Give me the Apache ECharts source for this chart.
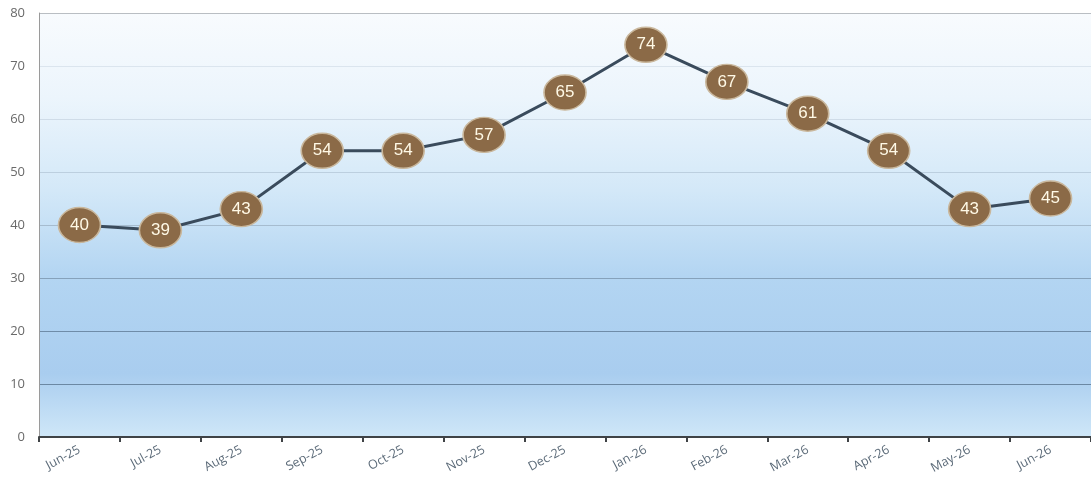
<!DOCTYPE html>
<html><head><meta charset="utf-8">
<script src="https://cdn.jsdelivr.net/npm/echarts@6/dist/echarts.min.js"></script>
<style>html,body{margin:0;padding:0;background:#fff}#c{width:1091px;height:485px}</style>
</head><body><div id="c"></div>
<script>
const categories = ['Jun-25','Jul-25','Aug-25','Sep-25','Oct-25','Nov-25','Dec-25','Jan-26','Feb-26','Mar-26','Apr-26','May-26','Jun-26'];
const values = [40,39,43,54,54,57,65,74,67,61,54,43,45];
const yTicks = {min:0, max:80, interval:10};

const chart = echarts.init(document.getElementById('c'), null, {renderer:'canvas'});
chart.setOption({
  animation:false,
  backgroundColor:'#ffffff',
  grid:{left:39, top:13, width:1060, height:424, show:true, borderWidth:0,
    backgroundColor:{type:'linear',x:0,y:0,x2:0,y2:1,colorStops:[
      {offset:0,color:'#f8fbfe'},
      {offset:0.2,color:'#ecf5fc'},
      {offset:0.42,color:'#d3e8f8'},
      {offset:0.62,color:'#b3d5f2'},
      {offset:0.85,color:'#a9cdef'},
      {offset:1,color:'#cfe7f8'}]}},
  xAxis:{type:'category', data:categories, boundaryGap:true,
    axisLine:{lineStyle:{color:'#3f4346', width:2}},
    axisTick:{show:true, length:5, lineStyle:{color:'#3f4346', width:2}},
    axisLabel:{rotate:28, color:'#5b6a78', fontFamily:'Open Sans', fontSize:12.5, margin:12}},
  yAxis:{type:'value', min:yTicks.min, max:yTicks.max, interval:yTicks.interval,
    axisLine:{show:true, lineStyle:{color:'#9a9a9a', width:1}},
    axisTick:{show:false},
    axisLabel:{color:'#6a6a6a', fontFamily:'Open Sans', fontSize:13, margin:14},
    splitLine:{show:true, lineStyle:{width:1.2, color:['#3f4346','#6b88a3','#6f8ca8','#86a2bb','#a6bccf','#bccfdf','#cfdce8','#dbe5ee','#b9bec3']}}},
  series:[{type:'line', data:values,
    lineStyle:{color:'#3a4b5c', width:3},
    symbol:'circle', symbolSize:[42,35],
    itemStyle:{color:'#8b6a47', borderColor:'#c9b79c', borderWidth:1.5},
    label:{show:true, position:'inside', color:'#fff9e6', fontFamily:'Liberation Sans', fontSize:17}
  }]
});
</script></body></html>
